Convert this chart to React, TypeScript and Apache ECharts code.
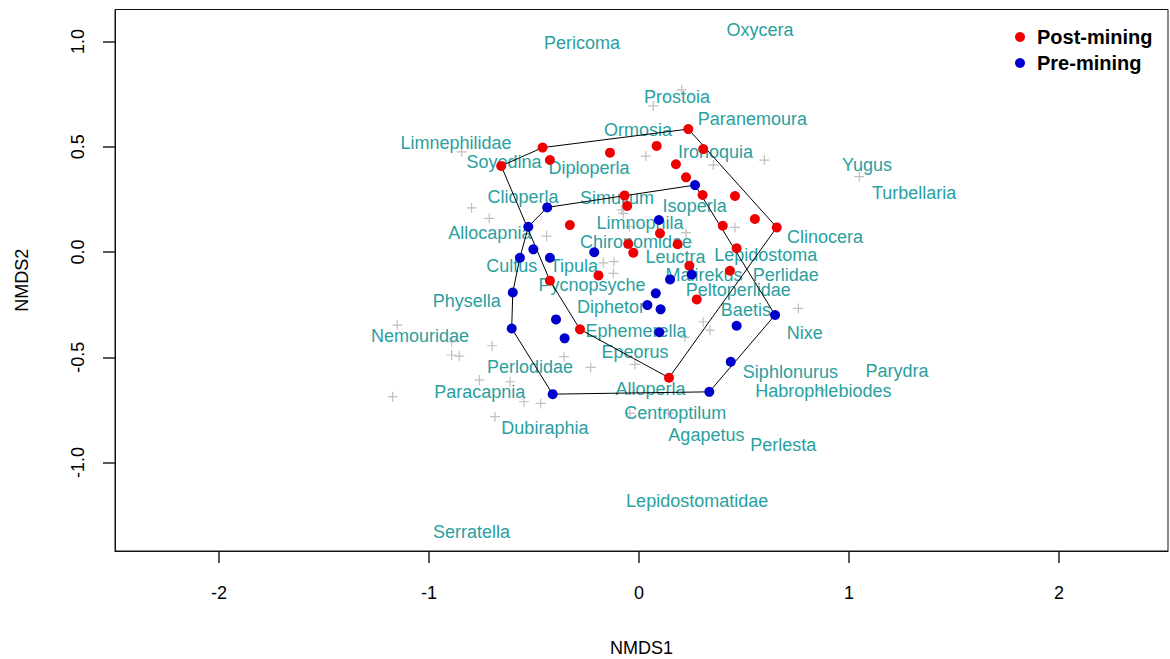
import React, { useEffect, useRef } from "react";
import * as echarts from "echarts";

// Post-mining site scores
const postX = [-0.656, -0.459, -0.424, -0.138, 0.084, 0.235, 0.306, 0.176, 0.224, 0.303, 0.457, 0.552, 0.656, 0.399, -0.069, -0.056, -0.329, 0.1, 0.184, -0.051, -0.027, 0.465, 0.24, 0.433, -0.193, -0.424, -0.281, 0.275, 0.143];
const postY = [0.409, 0.496, 0.437, 0.472, 0.504, 0.584, 0.489, 0.417, 0.355, 0.271, 0.266, 0.157, 0.117, 0.125, 0.268, 0.219, 0.128, 0.089, 0.037, 0.038, -0.003, 0.018, -0.065, -0.089, -0.111, -0.136, -0.367, -0.225, -0.597];

// Pre-mining site scores
const preX = [-0.437, 0.267, 0.095, -0.527, -0.503, -0.567, -0.424, -0.213, -0.601, -0.606, -0.395, -0.354, -0.411, 0.08, 0.04, 0.148, 0.251, 0.103, 0.097, 0.648, 0.465, 0.437, 0.335];
const preY = [0.212, 0.318, 0.152, 0.12, 0.013, -0.027, -0.027, -0.001, -0.192, -0.363, -0.32, -0.41, -0.675, -0.196, -0.252, -0.13, -0.107, -0.272, -0.381, -0.299, -0.35, -0.521, -0.664];

// Species labels
const speciesNames = ["Pericoma", "Oxycera", "Prostoia", "Paranemoura", "Ormosia", "Limnephilidae", "Soyedina", "Diploperla", "Ironoquia", "Yugus", "Turbellaria", "Clioperla", "Simulium", "Isoperla", "Limnophila", "Allocapnia", "Clinocera", "Chironomidae", "Leuctra", "Lepidostoma", "Cultus", "Tipula", "Malirekus", "Perlidae", "Pycnopsyche", "Peltoperlidae", "Physella", "Diphetor", "Baetis", "Ephemerella", "Nixe", "Nemouridae", "Epeorus", "Perlodidae", "Siphlonurus", "Parydra", "Alloperla", "Habrophlebiodes", "Paracapnia", "Centroptilum", "Dubiraphia", "Agapetus", "Perlesta", "Lepidostomatidae", "Serratella"];
const speciesX = [-0.271, 0.576, 0.181, 0.54, -0.005, -0.871, -0.643, -0.238, 0.364, 1.086, 1.31, -0.552, -0.105, 0.265, 0.005, -0.71, 0.886, -0.014, 0.174, 0.604, -0.606, -0.31, 0.31, 0.699, -0.224, 0.473, -0.82, -0.133, 0.509, -0.014, 0.789, -1.043, -0.019, -0.519, 0.721, 1.229, 0.055, 0.878, -0.758, 0.173, -0.448, 0.321, 0.687, 0.277, -0.797];
const speciesY = [0.993, 1.055, 0.735, 0.63, 0.58, 0.518, 0.429, 0.399, 0.477, 0.413, 0.28, 0.261, 0.257, 0.219, 0.139, 0.09, 0.07, 0.049, -0.022, -0.014, -0.067, -0.067, -0.109, -0.109, -0.157, -0.181, -0.231, -0.263, -0.276, -0.374, -0.383, -0.399, -0.474, -0.545, -0.569, -0.565, -0.652, -0.66, -0.664, -0.766, -0.836, -0.869, -0.917, -1.181, -1.329];

// Grey "+" markers
const crossX = [-0.844, 0.033, -0.797, -0.713, -0.44, -0.075, -0.046, -0.17, -0.119, -0.122, 0.068, 0.203, 0.354, 0.597, 1.049, 0.457, -0.082, 0.224, -1.151, -0.892, -0.892, -0.856, -0.699, -0.357, -0.23, -0.019, -0.76, -0.614, -0.548, -0.468, -0.686, -1.173, 0.306, 0.338, 0.219, 0.759, -0.043, 0.14, 0.87];
const crossY = [0.476, 0.456, 0.21, 0.16, 0.076, 0.184, 0.12, -0.051, -0.046, -0.101, 0.694, 0.77, 0.413, 0.437, 0.358, 0.117, 0.2, 0.092, -0.347, -0.426, -0.489, -0.494, -0.445, -0.497, -0.548, -0.534, -0.608, -0.616, -0.711, -0.719, -0.782, -0.687, -0.331, -0.371, -0.405, -0.268, -0.766, -0.766, -0.656];

const xTicks = [-2, -1, 0, 1, 2];
const yTicks = [-1, -0.5, 0, 0.5, 1];

const X_MIN = -2.495;
const X_MAX = 2.519;
const Y_MIN = -1.42;
const Y_MAX = 1.152;

const FONT = "Liberation Sans, Arial, sans-serif";

function convexHull(xs: number[], ys: number[]): number[][] {
  const pts = xs.map((x, i) => [x, ys[i]]).sort((a, b) => a[0] - b[0] || a[1] - b[1]);
  const cross = (o: number[], a: number[], b: number[]) => (a[0] - o[0]) * (b[1] - o[1]) - (a[1] - o[1]) * (b[0] - o[0]);
  const lower: number[][] = [];
  for (const p of pts) {
    while (lower.length >= 2 && cross(lower[lower.length - 2], lower[lower.length - 1], p) <= 0) lower.pop();
    lower.push(p);
  }
  const upper: number[][] = [];
  for (let i = pts.length - 1; i >= 0; i--) {
    const p = pts[i];
    while (upper.length >= 2 && cross(upper[upper.length - 2], upper[upper.length - 1], p) <= 0) upper.pop();
    upper.push(p);
  }
  upper.pop();
  lower.pop();
  const h = lower.concat(upper);
  h.push(h[0]);
  return h;
}

export default function App() {
  const ref = useRef<HTMLDivElement>(null);
  useEffect(() => {
    if (!ref.current) return;
    const chart = echarts.init(ref.current, null, { renderer: "svg" });
    const postData = postX.map((x, i) => [x, postY[i]]);
    const preData = preX.map((x, i) => [x, preY[i]]);
    const crossData = crossX.map((x, i) => [x, crossY[i]]);
    const speciesData = speciesX.map((x, i) => [x, speciesY[i]]);
    const option: any = {
      animation: false,
      backgroundColor: "#ffffff",
      grid: {
        left: 115,
        top: 9.5,
        width: 1053,
        height: 541.5,
        show: true,
        borderColor: "#111",
        borderWidth: 1,
        backgroundColor: "transparent",
        containLabel: false,
        outerBoundsMode: "none",
      },
      legend: {
        orient: "vertical",
        left: 1015,
        top: 27,
        padding: 0,
        itemWidth: 10,
        itemHeight: 10,
        itemGap: 6,
        icon: "circle",
        data: ["Post-mining", "Pre-mining"],
        textStyle: { fontSize: 20, fontWeight: "bold", color: "#000", fontFamily: FONT, padding: [0, 0, 0, 7] },
      },
      xAxis: {
        type: "value",
        min: X_MIN,
        max: X_MAX,
        splitLine: { show: false },
        axisLine: { show: true, onZero: false, lineStyle: { color: "#111", width: 1 } },
        axisTick: { show: true, customValues: xTicks, length: 12, lineStyle: { color: "#222", width: 1.5 } },
        axisLabel: { customValues: xTicks, formatter: (v: number) => String(v), fontSize: 18, color: "#000", fontFamily: FONT, margin: 33 },
        name: "NMDS1",
        nameLocation: "middle",
        nameGap: 88,
        nameTextStyle: { fontSize: 18, color: "#000", fontFamily: FONT },
      },
      yAxis: {
        type: "value",
        min: Y_MIN,
        max: Y_MAX,
        splitLine: { show: false },
        axisLine: { show: true, onZero: false, lineStyle: { color: "#111", width: 1 } },
        axisTick: { show: true, customValues: yTicks, length: 12, lineStyle: { color: "#222", width: 1.5 } },
        axisLabel: { customValues: yTicks, rotate: 90, formatter: (v: number) => v.toFixed(1), fontSize: 18, color: "#000", fontFamily: FONT, margin: 28 },
        name: "NMDS2",
        nameLocation: "middle",
        nameGap: 84,
        nameTextStyle: { fontSize: 18, color: "#000", fontFamily: FONT },
      },
      series: [
        {
          type: "scatter",
          data: crossData,
          symbol: "path://M0,5L10,5M5,0L5,10",
          symbolSize: 10,
          itemStyle: { color: "none", borderColor: "#c0c0c0", borderWidth: 1.2, opacity: 1 },
          z: 1,
          silent: true,
        },
        {
          type: "custom",
          data: speciesData,
          z: 2,
          silent: true,
          renderItem: (params: any, api: any) => {
            const p = api.coord([api.value(0), api.value(1)]);
            return {
              type: "text",
              x: p[0],
              y: p[1],
              style: {
                text: speciesNames[params.dataIndex],
                align: "center",
                verticalAlign: "middle",
                fill: "#2a9fa0",
                fontSize: 18,
                fontFamily: FONT,
              },
            };
          },
        },
        {
          type: "line",
          data: convexHull(postX, postY),
          symbol: "none",
          lineStyle: { color: "#000", width: 1 },
          z: 3,
          silent: true,
        },
        {
          type: "line",
          data: convexHull(preX, preY),
          symbol: "none",
          lineStyle: { color: "#000", width: 1 },
          z: 3,
          silent: true,
        },
        {
          name: "Post-mining",
          type: "scatter",
          data: postData,
          symbol: "circle",
          symbolSize: 10,
          itemStyle: { color: "#ee0000", opacity: 1 },
          z: 4,
        },
        {
          name: "Pre-mining",
          type: "scatter",
          data: preData,
          symbol: "circle",
          symbolSize: 10,
          itemStyle: { color: "#0000cd", opacity: 1 },
          z: 4,
        },
      ],
    };
    chart.setOption(option);
    return () => chart.dispose();
  }, []);
  return <div ref={ref} style={{ position: "fixed", left: 0, top: 0, width: 1170, height: 659 }} />;
}
